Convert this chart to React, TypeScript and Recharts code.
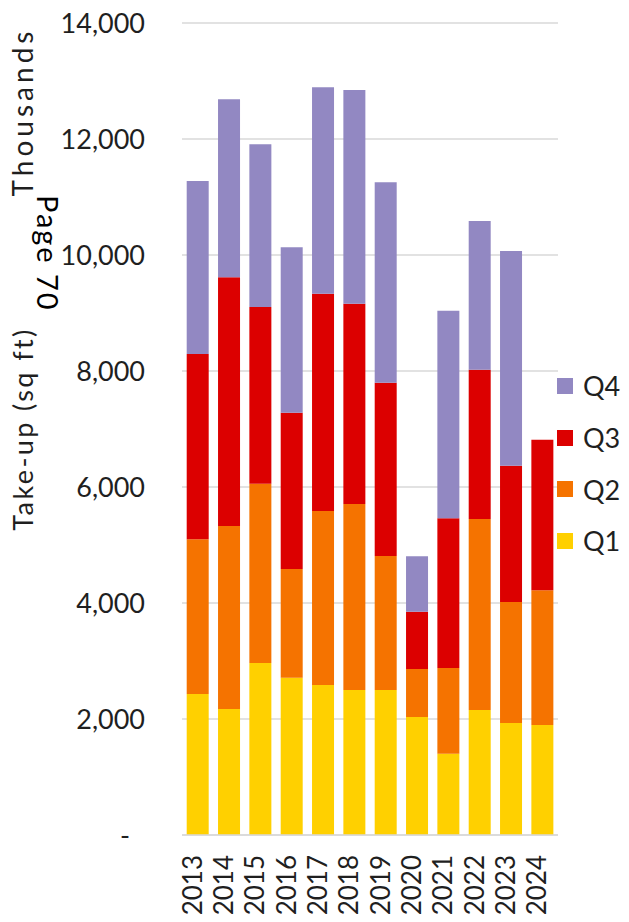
import { BarChart, Bar, XAxis, YAxis, CartesianGrid } from "recharts";

const years = ["2013", "2014", "2015", "2016", "2017", "2018", "2019", "2020", "2021", "2022", "2023", "2024"];
const q1 = [2431, 2172, 2966, 2713, 2586, 2500, 2500, 2034, 1402, 2155, 1931, 1897];
const q2 = [2667, 3156, 3091, 1873, 3000, 3207, 2310, 828, 1477, 3293, 2086, 2321];
const q3 = [3195, 4287, 3046, 2696, 3747, 3454, 2989, 989, 2581, 2575, 2351, 2598];
const q4 = [2983, 3069, 2805, 2850, 3558, 3684, 3454, 954, 3580, 2563, 3701, null];
const yTicks = [0, 2000, 4000, 6000, 8000, 10000, 12000, 14000];

const series = [
  { key: "q1", name: "Q1", color: "#FFD000" },
  { key: "q2", name: "Q2", color: "#F57300" },
  { key: "q3", name: "Q3", color: "#DC0000" },
  { key: "q4", name: "Q4", color: "#9288C2" },
];

const data = years.map((year, i) => ({ year, q1: q1[i], q2: q2[i], q3: q3[i], q4: q4[i] }));

const FONT = "Lato, 'Open Sans', sans-serif";
const INK = "#1f1f1f";

function YTick({ x, y, payload }: any) {
  const v = payload.value;
  return (
    <text x={v === 0 ? x - 15 : x} y={y} dy="0.36em" textAnchor="end" fontFamily={FONT} fontSize={27} fill={INK}>
      {v === 0 ? "-" : v.toLocaleString("en-US")}
    </text>
  );
}

function XTick({ x, y, payload }: any) {
  return (
    <text x={x} y={y} dy={4} textAnchor="end" transform={`rotate(-90, ${x}, ${y})`} fontFamily={FONT} fontSize={26} fill={INK}>
      {payload.value}
    </text>
  );
}

export default function App() {
  return (
    <div style={{ position: "absolute", left: 0, top: 0, width: 629, height: 922, background: "#fff" }}>
      <BarChart
        width={629}
        height={922}
        data={data}
        margin={{ top: 23, right: 71, bottom: 0, left: 0 }}
        barCategoryGap="15%"
      >
        <CartesianGrid vertical={false} stroke="#d9d9d9" strokeWidth={1.5} />
        <XAxis
          dataKey="year"
          height={87}
          tickLine={false}
          tickSize={0}
          tickMargin={20}
          axisLine={{ stroke: "#d9d9d9", strokeWidth: 1.5 }}
          interval={0}
          tick={<XTick />}
        />
        <YAxis
          width={182}
          domain={[0, 14000]}
          ticks={yTicks}
          axisLine={false}
          tickLine={false}
          tickSize={0}
          tickMargin={37}
          tick={<YTick />}
        />
        {series.map((s) => (
          <Bar key={s.key} dataKey={s.key} name={s.name} stackId="a" fill={s.color} isAnimationActive={false} />
        ))}
      </BarChart>
      <svg width={629} height={922} style={{ position: "absolute", left: 0, top: 0, pointerEvents: "none" }}>
        <text x={33} y={112} textAnchor="middle" transform="rotate(-90, 33, 112)" fontFamily={FONT} fontSize={28} letterSpacing={4} fill={INK}>
          Thousands
        </text>
        <text x={33} y={429} textAnchor="middle" transform="rotate(-90, 33, 429)" fontFamily={FONT} fontSize={27} letterSpacing={2.4} fill={INK}>
          Take-up (sq ft)
        </text>
        <text x={37} y={195} textAnchor="start" transform="rotate(90, 37, 195)" fontFamily={FONT} fontSize={29} letterSpacing={2} fill="#000">
          Page 70
        </text>
      </svg>
      <div style={{ position: "absolute", left: 557, top: 360, fontFamily: FONT, fontSize: 27, color: INK }}>
        {[...series].reverse().map((s) => (
          <div key={s.key} style={{ height: 51.7, display: "flex", alignItems: "center" }}>
            <span style={{ width: 16, height: 16, background: s.color, marginRight: 10, display: "inline-block" }} />
            <span style={{ lineHeight: 1 }}>{s.name}</span>
          </div>
        ))}
      </div>
    </div>
  );
}
